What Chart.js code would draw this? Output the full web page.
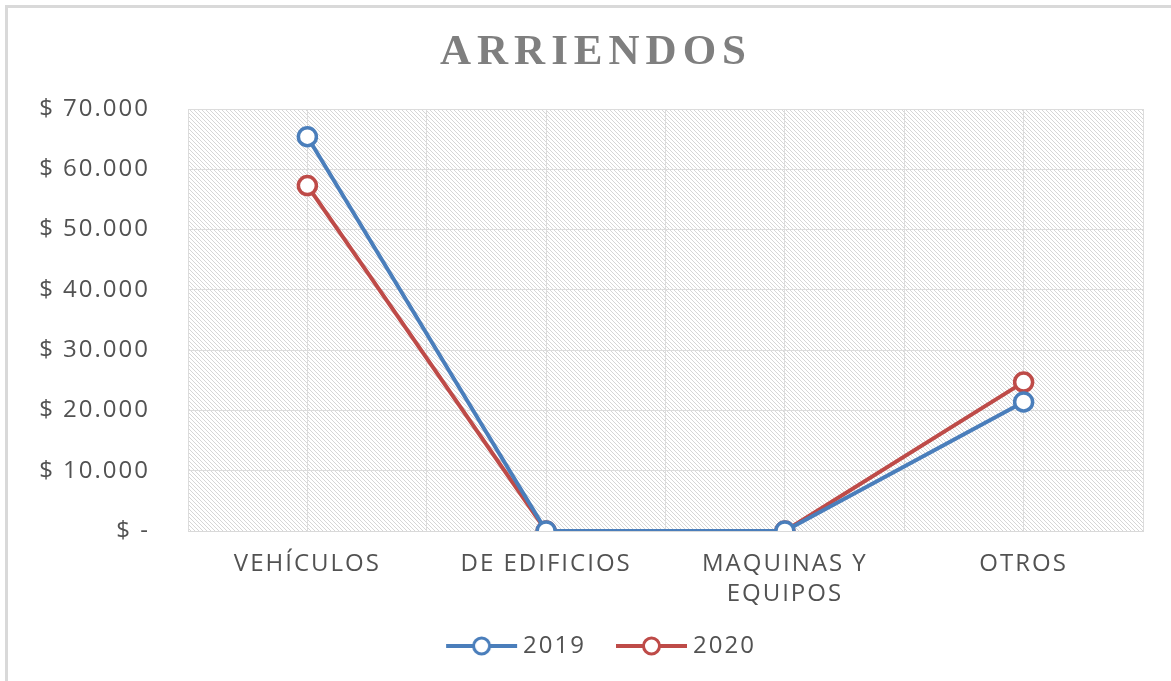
<!DOCTYPE html>
<html>
<head>
<meta charset="utf-8">
<title>Arriendos</title>
<script src="https://cdn.jsdelivr.net/npm/chart.js@4.4.1/dist/chart.umd.min.js"></script>
<style>
    html, body { margin: 0; padding: 0; background: #fff; }
    #wrap { width: 1171px; height: 681px; }
</style>
</head>
<body>
<div id="wrap"><canvas id="arriendosChart" width="1171" height="681"></canvas></div>
<script>
const categories = ['VEHÍCULOS', 'DE EDIFICIOS', ['MAQUINAS Y', 'EQUIPOS'], 'OTROS'];
const values2019 = [65400, 0, 0, 21400];
const values2020 = [57300, 0, 0, 24700];
const yTickLabels = ['$ -', '$ 10.000', '$ 20.000', '$ 30.000', '$ 40.000', '$ 50.000', '$ 60.000', '$ 70.000'];
const seriesNames = ['2019', '2020'];

const BLUE = '#4a7ebb';
const RED = '#be4b48';
const TEXT = '#525252';
const GRID = '#dcdcdc';
const FONT = "'Open Sans', sans-serif";

// line + circle icon for the legend (transparent margin on the left gives the gap between items)
function legendIcon(color) {
    let c = document.createElement('canvas');
    c.width = 100;
    c.height = 24;
    let g = c.getContext('2d');
    g.strokeStyle = color;
    g.lineWidth = 4;
    g.beginPath();
    g.moveTo(27, 12);
    g.lineTo(98, 12);
    g.stroke();
    g.beginPath();
    g.arc(62.5, 12, 8, 0, Math.PI * 2);
    g.fillStyle = '#fff';
    g.fill();
    g.lineWidth = 3;
    g.stroke();
    return c;
}

function hatch(ctx) {
    let t = document.createElement('canvas');
    t.width = 4;
    t.height = 4;
    let g = t.getContext('2d');
    g.fillStyle = '#fff';
    g.fillRect(0, 0, 4, 4);
    g.fillStyle = '#d6d6d6';
    for (let i = 0; i < 4; i++) {
        g.fillRect(i, i, 1, 1);
    }
    return ctx.createPattern(t, 'repeat');
}

const spacing = {
    id: 'spacing',
    beforeUpdate(chart) { chart.ctx.letterSpacing = '2px'; },
    beforeDraw(chart) { chart.ctx.letterSpacing = '2px'; },
    afterLayout(chart) {
        // legend sits a bit right of the canvas centre in the original
        chart.legend.left = 40;
    }
};

const fondo = {
    id: 'fondo',
    beforeDraw(chart) {
        let ctx = chart.ctx;
        let a = chart.chartArea;
        ctx.save();
        ctx.fillStyle = '#fff';
        ctx.fillRect(0, 0, chart.width, chart.height);
        ctx.strokeStyle = '#d9d9d9';
        ctx.lineWidth = 3;
        ctx.strokeRect(6.5, 6.5, chart.width + 20, chart.height + 20);
        ctx.fillStyle = hatch(ctx);
        ctx.fillRect(a.left, a.top, a.right - a.left, a.bottom - a.top);
        ctx.restore();
    }
};

const titulo = {
    id: 'titulo',
    afterDraw(chart) {
        let ctx = chart.ctx;
        ctx.save();
        ctx.letterSpacing = '6px';
        ctx.font = "bold 43px 'Liberation Serif', serif";
        ctx.fillStyle = '#7f7f7f';
        ctx.textAlign = 'center';
        ctx.textBaseline = 'middle';
        ctx.fillText('ARRIENDOS', 596, 53);
        ctx.restore();
    }
};

const icons = [legendIcon(BLUE), legendIcon(RED)];

new Chart(document.getElementById('arriendosChart'), {
    type: 'line',
    data: {
        labels: categories,
        datasets: [
            {
                label: seriesNames[0],
                data: values2019,
                borderColor: BLUE,
                backgroundColor: '#fff',
                borderWidth: 4,
                pointRadius: 9,
                pointBorderWidth: 3.5,
                pointBackgroundColor: '#fff',
                pointBorderColor: BLUE,
                tension: 0
            },
            {
                label: seriesNames[1],
                data: values2020,
                borderColor: RED,
                backgroundColor: '#fff',
                borderWidth: 4,
                pointRadius: 9,
                pointBorderWidth: 3.5,
                pointBackgroundColor: '#fff',
                pointBorderColor: RED,
                tension: 0
            }
        ]
    },
    options: {
        responsive: false,
        animation: false,
        layout: { padding: { top: 109, right: 28, bottom: 13, left: 0 } },
        scales: {
            x: {
                offset: true,
                grid: { offset: true, color: GRID, drawTicks: false },
                border: { color: '#d9d9d9' },
                ticks: {
                    color: TEXT,
                    font: { family: FONT, size: 24, lineHeight: 1.25 },
                    padding: 18,
                    maxRotation: 0,
                    autoSkip: false
                },
                afterFit(scale) { scale.height = 92; }
            },
            x2: {
                position: 'bottom',
                offset: true,
                grid: { offset: false, color: GRID, drawTicks: false },
                border: { display: false },
                ticks: { display: false },
                afterFit(scale) { scale.height = 0; }
            },
            y: {
                min: 0,
                max: 70000,
                ticks: {
                    stepSize: 10000,
                    color: TEXT,
                    font: { family: FONT, size: 24 },
                    padding: 38,
                    callback: function(value, index) {
                        return yTickLabels[index];
                    }
                },
                grid: { color: GRID, drawTicks: false },
                border: { display: false },
                afterFit(scale) { scale.width = 188; }
            }
        },
        plugins: {
            legend: {
                position: 'bottom',
                labels: {
                    color: TEXT,
                    font: { family: FONT, size: 24 },
                    usePointStyle: true,
                    pointStyleWidth: 84,
                    padding: 11,
                    generateLabels: function(chart) {
                        return chart.data.datasets.map(function(ds, i) {
                            return {
                                text: ds.label,
                                fontColor: TEXT,
                                pointStyle: icons[i],
                                datasetIndex: i,
                                hidden: false,
                                lineWidth: 0
                            };
                        });
                    }
                }
            },
            tooltip: { enabled: false }
        }
    },
    plugins: [spacing, fondo, titulo]
});
</script>
</body>
</html>
